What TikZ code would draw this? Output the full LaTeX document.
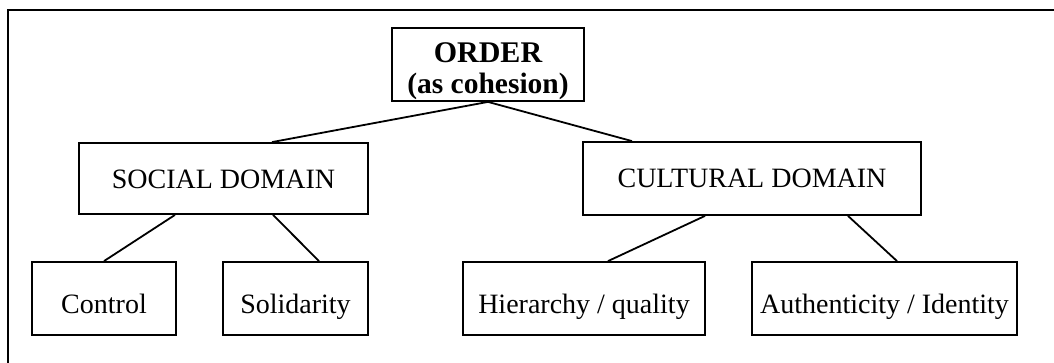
\documentclass[tikz,border=0pt]{standalone}
\usepackage{fontspec}
\setmainfont{Liberation Serif}
\begin{document}
\begin{tikzpicture}[x=1pt,y=-1pt,
  box/.style={draw, line width=1.8pt, inner sep=0pt, minimum height=73pt,
    font=\fontsize{28}{32}\selectfont},
  lbl/.style={inner sep=0pt, anchor=base},
  link/.style={line width=1.8pt}]
\useasboundingbox (0,0) rectangle (1054,363);

% outer frame (left and top edges)
\draw[line width=2pt] (7.5,370) -- (7.5,10) -- (1060,10);

% top concept
\node[box, minimum width=192pt] (order) at (488,64.5) {};
\node[lbl, font=\bfseries\fontsize{30}{32}\selectfont] (ordername) at (488,63) {ORDER};
\node[lbl, font=\bfseries\fontsize{29.5}{32}\selectfont] (ordersub) at (488,94) {(as cohesion)};

% domains
\node[box, minimum width=289pt, minimum height=71pt, text height=21pt, text depth=0pt]
  (social) at (223.5,178.5) {SOCIAL DOMAIN};
\node[box, minimum width=338pt, text height=19pt, text depth=0pt]
  (cultural) at (752,178.5) {CULTURAL DOMAIN};

% leaves
\node[box, minimum width=144pt, text height=29pt, text depth=0pt]
  (control) at (104,298.5) {Control};
\node[box, minimum width=145pt, text height=29pt, text depth=0pt]
  (solidarity) at (295.5,298.5) {Solidarity};
\node[box, minimum width=242pt, text height=29pt, text depth=0pt]
  (hierarchy) at (584,298.5) {Hierarchy / quality};
\node[box, minimum width=265pt, text height=29pt, text depth=0pt]
  (authenticity) at (884.5,298.5) {Authenticity / Identity};

% connectors
\draw[link] (order.south) -- ([xshift=48.5pt]social.north);
\draw[link] (order.south) -- ([xshift=-120pt]cultural.north);
\draw[link] ([xshift=-48.5pt]social.south) -- (control.north);
\draw[link] ([xshift=49.5pt]social.south) -- ([xshift=23.5pt]solidarity.north);
\draw[link] ([xshift=-47pt]cultural.south) -- ([xshift=24pt]hierarchy.north);
\draw[link] ([xshift=96pt]cultural.south) -- ([xshift=12.5pt]authenticity.north);
\end{tikzpicture}
\end{document}
